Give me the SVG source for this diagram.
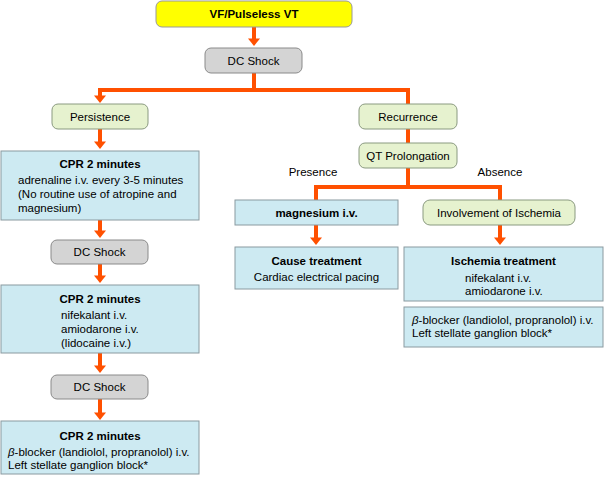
<svg xmlns="http://www.w3.org/2000/svg" width="604" height="478" viewBox="0 0 604 478">
<style>
text{font-family:"Liberation Sans",Arial,sans-serif;font-size:11.5px;fill:#000}
.b{font-weight:bold}
.c{text-anchor:middle}
.y{fill:#ffff00;stroke:#999;stroke-width:1}
.g{fill:#d4d4d4;stroke:#8a8a8a;stroke-width:1}
.gr{fill:#e6f2cf;stroke:#8a9a80;stroke-width:1}
.bl{fill:#cdeaf2;stroke:#8a9aa0;stroke-width:1}
.ln{fill:none;stroke:#ff5000;stroke-width:4}
</style>
<defs>
<marker id="ah" markerUnits="userSpaceOnUse" markerWidth="14" markerHeight="14" refX="0" refY="0" orient="auto" overflow="visible">
<path d="M-0.5,-6 L7,0 L-0.5,6 z" fill="#ff5000"/>
</marker>
</defs>
<g id="connectors">
<path class="ln" d="M254,27 V39" marker-end="url(#ah)"/>
<path class="ln" d="M254,73 V90 M98,90 H410"/>
<path class="ln" d="M100,88 V96" marker-end="url(#ah)"/>
<path class="ln" d="M408,90 V104"/>
<path class="ln" d="M100,129 V142" marker-end="url(#ah)"/>
<path class="ln" d="M100,220 V231" marker-end="url(#ah)"/>
<path class="ln" d="M100,264 V276" marker-end="url(#ah)"/>
<path class="ln" d="M100,353 V366" marker-end="url(#ah)"/>
<path class="ln" d="M100,399 V413" marker-end="url(#ah)"/>
<path class="ln" d="M408,129 V143"/>
<path class="ln" d="M408,168 V187 M314,187 H502 M316,185 V200 M500,185 V200"/>
<path class="ln" d="M316,225 V238" marker-end="url(#ah)"/>
<path class="ln" d="M500,225 V238" marker-end="url(#ah)"/>
</g>
<g id="n-vf"><rect class="y" x="156" y="1" width="196" height="26" rx="6"/><text class="b c" x="254" y="18">VF/Pulseless VT</text></g>
<g id="n-dc1"><rect class="g" x="205" y="48" width="97" height="25" rx="6"/><text class="c" x="253.5" y="64.5">DC Shock</text></g>
<g id="n-persist"><rect class="gr" x="52" y="104" width="96" height="25" rx="6"/><text class="c" x="100" y="120.5">Persistence</text></g>
<g id="n-recur"><rect class="gr" x="359" y="104" width="98" height="25" rx="6"/><text class="c" x="408" y="120.5">Recurrence</text></g>
<g id="n-qt"><rect class="gr" x="359" y="143" width="98" height="25" rx="6"/><text class="c" x="408" y="159.5">QT Prolongation</text></g>
<g id="n-cpr1"><rect class="bl" x="1" y="151" width="198" height="69"/>
<text class="b c" x="100" y="168">CPR 2 minutes</text>
<text x="18" y="184">adrenaline i.v. every 3-5 minutes</text>
<text x="18" y="198">(No routine use of atropine and</text>
<text x="18" y="212">magnesium)</text></g>
<g id="n-dc2"><rect class="g" x="51" y="240" width="97" height="24" rx="6"/><text class="c" x="99.5" y="256">DC Shock</text></g>
<g id="n-cpr2"><rect class="bl" x="1" y="285" width="198" height="68"/>
<text class="b c" x="100" y="303">CPR 2 minutes</text>
<text x="61" y="319">nifekalant i.v.</text>
<text x="61" y="333">amiodarone i.v.</text>
<text x="61" y="347">(lidocaine i.v.)</text></g>
<g id="n-dc3"><rect class="g" x="51" y="375" width="97" height="24" rx="6"/><text class="c" x="99.5" y="391">DC Shock</text></g>
<g id="n-cpr3"><rect class="bl" x="1" y="421" width="198" height="53"/>
<text class="b c" x="100" y="440">CPR 2 minutes</text>
<text x="8" y="456"><tspan font-style="italic">β</tspan>-blocker (landiolol, propranolol) i.v.</text>
<text x="8" y="469">Left stellate ganglion block*</text></g>
<text x="313" y="176" class="c">Presence</text>
<text x="500" y="176" class="c">Absence</text>
<g id="n-mg"><rect class="bl" x="235" y="200" width="163" height="25"/><text class="b c" x="316.5" y="216.5">magnesium i.v.</text></g>
<g id="n-isch"><rect class="gr" x="423" y="200" width="152" height="25" rx="7"/><text class="c" x="499" y="216.5">Involvement of Ischemia</text></g>
<g id="n-cause"><rect class="bl" x="235" y="247" width="163" height="42"/>
<text class="b c" x="316.5" y="265">Cause treatment</text>
<text class="c" x="316.5" y="281">Cardiac electrical pacing</text></g>
<g id="n-ischt"><rect class="bl" x="404" y="247" width="199" height="54"/>
<text class="b c" x="503.5" y="265">Ischemia treatment</text>
<text x="465" y="282">nifekalant i.v.</text>
<text x="465" y="295">amiodarone i.v.</text></g>
<g id="n-beta"><rect class="bl" x="404" y="307" width="199" height="40"/>
<text x="412" y="324"><tspan font-style="italic">β</tspan>-blocker (landiolol, propranolol) i.v.</text>
<text x="412" y="337">Left stellate ganglion block*</text></g>
</svg>
